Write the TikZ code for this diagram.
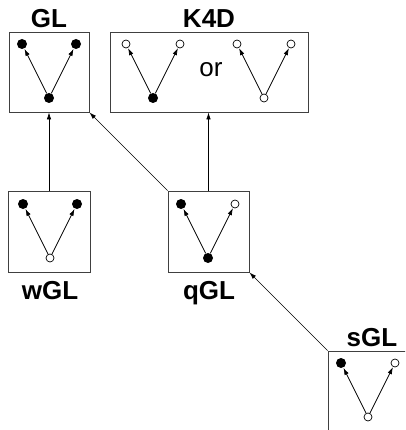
\documentclass[tikz,border=0pt]{standalone}
\usepackage{fontspec}
\setmainfont{Liberation Sans}
\usetikzlibrary{arrows.meta}
\tikzset{
  box/.style={draw=black!75, line width=0.8pt, inner sep=0pt},
  fdot/.style={circle, fill=black, inner sep=0pt, minimum size=10pt},
  odot/.style={circle, draw=black, fill=white, line width=0.7pt, inner sep=0pt, minimum size=8pt},
  vtip/.style={line width=0.7pt, -{Latex[length=7pt,width=4.5pt]}, shorten >=0.3pt},
  conn/.style={line width=0.7pt, -{Latex[length=7pt,width=4.5pt]}},
  lab/.style={font=\fontsize{26}{30}\selectfont\bfseries, anchor=base, inner sep=0pt},
  ortext/.style={font=\fontsize{26}{30}\selectfont, inner sep=0pt},
}
\newcommand\myvee[6]{%
  \node[#4] (#1a) at ({#2+13},{#3+12}) {};
  \node[#5] (#1b) at ({#2+67},{#3+12}) {};
  \node[#6] (#1c) at ({#2+40},{#3+66}) {};
  \draw[vtip] (#1c) -- (#1a);
  \draw[vtip] (#1c) -- (#1b);
}
\begin{document}
\begin{tikzpicture}[x=1pt,y=-1pt]
\useasboundingbox (0,0) rectangle (405,430);
\clip (0,0) rectangle (405,430);
% boxes
\node[box, minimum width=80pt, minimum height=80pt] (GL) at (49,72) {};
\node[box, minimum width=198pt, minimum height=80pt] (K4D) at (209,72) {};
\node[box, minimum width=82pt, minimum height=81pt] (wGL) at (49,231.5) {};
\node[box, minimum width=81pt, minimum height=81pt] (qGL) at (208.5,231.5) {};
\node[box, minimum width=80pt, minimum height=80pt] (sGL) at (368,391) {};
% labels
\node[lab] (GLl) at (49,28) {GL};
\node[lab] (K4Dl) at (209,28) {K4D};
\node[lab] (wGLl) at (50,299) {wGL};
\node[lab] (qGLl) at (209,299) {qGL};
\node[lab] (sGLl) at (372,346) {sGL};
\node[ortext] (or) at (211,70) {or};
% vees
\myvee{g}{9}{32}{fdot}{fdot}{fdot}
\myvee{ka}{113}{32}{odot}{odot}{fdot}
\myvee{kb}{224}{32}{odot}{odot}{odot}
\myvee{w}{10}{192}{fdot}{fdot}{odot}
\myvee{q}{168}{192}{fdot}{odot}{fdot}
\myvee{s}{328}{351}{fdot}{odot}{odot}
% connectors
\draw[conn] (wGL.north) -- (wGL.north |- GL.south);
\draw[conn] (qGL.north west) -- (GL.south east);
\draw[conn] (qGL.north) -- (qGL.north |- K4D.south);
\draw[conn] (sGL.north west) -- (qGL.south east);
\end{tikzpicture}
\end{document}
